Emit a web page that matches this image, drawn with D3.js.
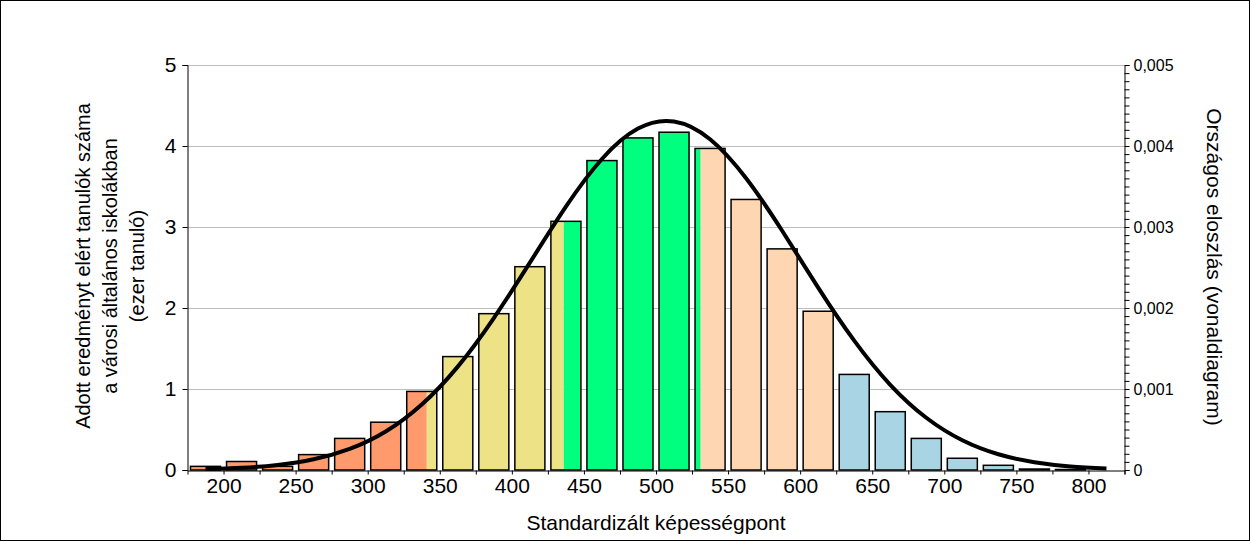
<!DOCTYPE html>
<html>
<head>
<meta charset="utf-8">
<script src="https://cdn.jsdelivr.net/npm/d3@7"></script>
<style>
body { margin: 0; background: #fff; }
svg { display: block; font-family: "Liberation Sans", Arial, sans-serif; }
</style>
</head>
<body>
<svg id="chart" width="1250" height="541"></svg>
<script>
// score bins (lower edge), 25 points wide
var binStart = [175, 200, 225, 250, 275, 300, 325, 350, 375, 400, 425, 450, 475,
                500, 525, 550, 575, 600, 625, 650, 675, 700, 725, 750, 775];
// number of students (thousand)
var students = [0.045, 0.105, 0.045, 0.19, 0.39, 0.59, 0.97, 1.40, 1.93, 2.51, 3.07, 3.82, 4.10,
                4.17, 3.97, 3.34, 2.73, 1.96, 1.18, 0.72, 0.39, 0.145, 0.058, 0.012, 0.006];
// level boundaries and colours
var levelBreaks = [341, 436, 531, 625];
var levelColors = ["#ff9a6c", "#eee287", "#00ff7f", "#ffd6b2", "#a8d4e3"];
// national distribution (line)
var curveX = [187.5, 212.5, 237.5, 262.5, 287.5, 312.5, 337.5, 362.5, 387.5, 412.5, 437.5, 462.5, 487.5,
              512.5, 537.5, 562.5, 587.5, 612.5, 637.5, 662.5, 687.5, 712.5, 737.5, 762.5, 787.5, 812.5];
var curveY = [0.000011, 0.000027, 0.000062, 0.000132, 0.00026, 0.000475, 0.000808, 0.001276, 0.001876,
              0.00256, 0.003252, 0.00384, 0.004215, 0.004302, 0.004083, 0.003601, 0.002954, 0.002252,
              0.001597, 0.001052, 0.000645, 0.000367, 0.000194, 0.000096, 0.000044, 0.000019];
var xTicks = [200, 250, 300, 350, 400, 450, 500, 550, 600, 650, 700, 750, 800];
var leftTicks = [0, 1, 2, 3, 4, 5];
var rightTicks = [0, 0.001, 0.002, 0.003, 0.004, 0.005];

var svg = d3.select("#chart");
svg.append("rect").attr("x", 0.5).attr("y", 0.5).attr("width", 1249).attr("height", 540)
    .attr("fill", "#fff").attr("stroke", "#000");

var x = d3.scaleLinear().domain([175, 825]).range([187.5, 1124.5]);
var yL = d3.scaleLinear().domain([0, 5]).range([470, 65]);
var yR = d3.scaleLinear().domain([0, 0.005]).range([470, 65]);

// grid
svg.append("g").selectAll("line").data(leftTicks.slice(1)).enter().append("line")
    .attr("x1", 187.5).attr("x2", 1124.5)
    .attr("y1", function(d){ return Math.round(yL(d)) + 0.5; })
    .attr("y2", function(d){ return Math.round(yL(d)) + 0.5; })
    .attr("stroke", "#bdbdbd").attr("stroke-width", 1);

// bars, split by level boundaries
var bars = svg.append("g");
binStart.forEach(function(lo, i){
    var hi = lo + 25;
    var x0 = x(lo) + 3, x1 = x(hi) - 3;
    var top = yL(students[i]);
    var edges = [lo].concat(levelBreaks.filter(function(b){ return b > lo && b < hi; })).concat([hi]);
    for (var k = 0; k < edges.length - 1; k++) {
        var a = Math.max(x(edges[k]), x0), b = Math.min(x(edges[k + 1]), x1);
        var lvl = d3.bisectRight(levelBreaks, (edges[k] + edges[k + 1]) / 2);
        if (b > a) {
            bars.append("rect").attr("x", a).attr("y", top).attr("width", b - a)
                .attr("height", yL(0) - top).attr("fill", levelColors[lvl]);
        }
    }
    bars.append("rect").attr("x", x0).attr("y", top).attr("width", x1 - x0)
        .attr("height", yL(0) - top).attr("fill", "none")
        .attr("stroke", "#000").attr("stroke-width", 1.5);
});

// distribution line
var pts = curveX.map(function(v, i){ return [v, curveY[i]]; });
svg.append("path").datum(pts)
    .attr("d", d3.line().x(function(d){ return x(d[0]); }).y(function(d){ return yR(d[1]); })
        .curve(d3.curveNatural))
    .attr("fill", "none").attr("stroke", "#000").attr("stroke-width", 4);

// axes
var fmtR = function(d){ return d === 0 ? "0" : d3.format(".3f")(d).replace(".", ","); };
var gl = svg.append("g").attr("transform", "translate(187.5,0)")
    .call(d3.axisLeft(yL).tickValues(leftTicks).tickSize(5).tickPadding(6).tickFormat(d3.format("d")));
gl.selectAll("text").attr("font-size", 21).attr("fill", "#000").attr("font-family", "Liberation Sans, Arial");

var gb = svg.append("g").attr("transform", "translate(0,470.5)")
    .call(d3.axisBottom(x).tickValues(d3.range(200, 826, 25)).tickSize(4).tickPadding(4)
        .tickFormat(function(d){ return xTicks.indexOf(d) >= 0 ? d : ""; }));
gb.selectAll("text").attr("font-size", 21).attr("fill", "#000").attr("font-family", "Liberation Sans, Arial");

var gr = svg.append("g").attr("transform", "translate(1124.5,0)")
    .call(d3.axisRight(yR).tickValues(d3.range(0, 51).map(function(i){ return i / 10000; }))
        .tickSize(5).tickPadding(4)
        .tickFormat(function(d){
            var r = Math.round(d * 1000) / 1000;
            return rightTicks.indexOf(r) >= 0 && Math.abs(r - d) < 1e-7 ? fmtR(r) : "";
        }));
gr.selectAll("text").attr("font-size", 16).attr("fill", "#000").attr("font-family", "Liberation Sans, Arial");
[gl, gb, gr].forEach(function(g){
    g.select(".domain").attr("stroke", "#000");
    g.selectAll(".tick line").attr("stroke", "#000");
});

// titles
svg.append("text").attr("x", 656).attr("y", 530).attr("text-anchor", "middle")
    .attr("font-size", 21).text("Standardizált képességpont");

var lt = svg.append("text").attr("transform", "translate(90,266) rotate(-90)")
    .attr("text-anchor", "middle").attr("font-size", 20);
["Adott eredményt elért tanulók száma", "a városi általános iskolákban", "(ezer tanuló)"]
    .forEach(function(s, i){
        lt.append("tspan").attr("x", 0).attr("dy", i === 0 ? 0 : 27).text(s);
    });
svg.append("text").attr("transform", "translate(1207,267) rotate(90)")
    .attr("text-anchor", "middle").attr("font-size", 21).text("Országos eloszlás (vonaldiagram)");
</script>
</body>
</html>
